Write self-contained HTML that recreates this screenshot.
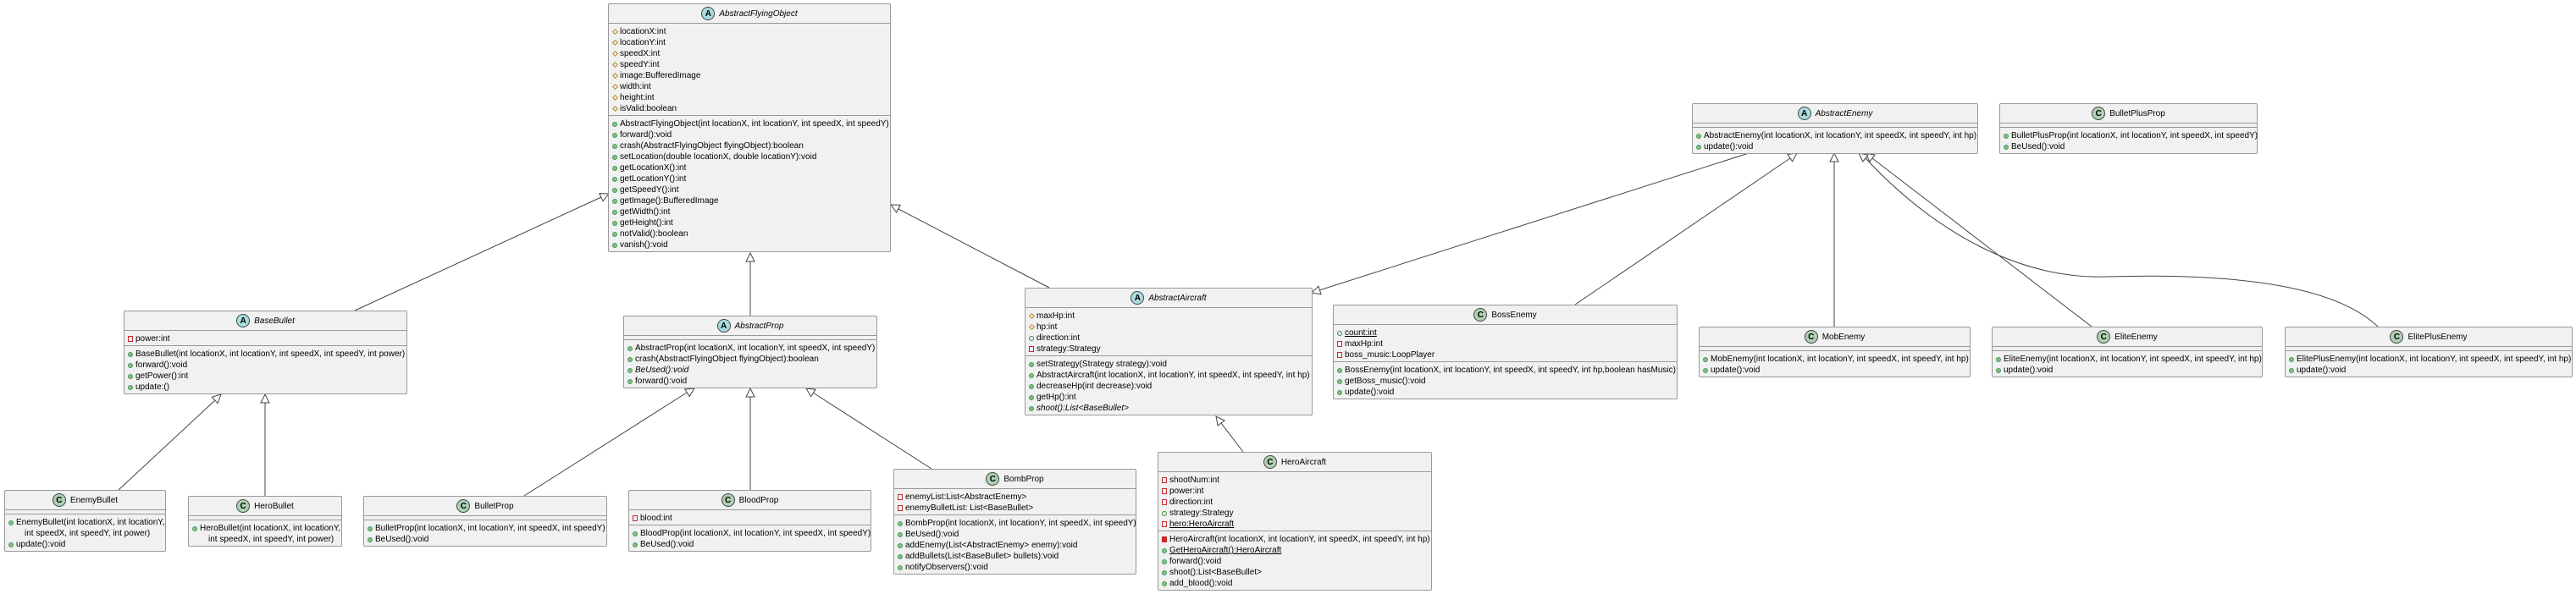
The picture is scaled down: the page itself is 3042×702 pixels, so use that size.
<!DOCTYPE html>
<html><head><meta charset="utf-8"><style>
body{margin:0;width:3042px;height:702px;background:#fff;position:relative;overflow:hidden}
.c{position:absolute;background:#f1f1f1;border:1px solid #999;border-radius:2px;font:10px "Liberation Sans",sans-serif;white-space:nowrap;box-sizing:border-box;color:#000}
.h{height:22px;border-bottom:1px solid #999;display:flex;align-items:center;justify-content:center}
.h i{font-style:italic}
.i{width:16px;height:16px;border-radius:50%;border:1px solid #444;box-sizing:border-box;display:inline-flex;align-items:center;justify-content:center;font-size:10px;font-weight:bold;margin-right:5px;font-style:normal}
.a{background:#a9dcdf}.k{background:#add1b2}
.s{padding:3px 0 1px}
.s+.s,.e+.s{border-top:1px solid #999}
.e{height:4px}
.r{height:13px;line-height:13px;padding-left:13px;position:relative}
.r::before{content:"";position:absolute;box-sizing:border-box}
.pm::before{left:4px;top:4px;width:6px;height:6px;border-radius:50%;background:#84be84;border:1px solid #4a9a5a}
.pf::before{left:4px;top:4px;width:6px;height:6px;border-radius:50%;border:1px solid #3a8a4a}
.pt::before{left:5px;top:4px;width:5px;height:5px;border:1px solid #b38d22;transform:rotate(45deg)}
.vf::before{left:4px;top:3px;width:6px;height:7px;border:1px solid #c82930}
.vm::before{left:4px;top:3px;width:6px;height:7px;background:#c82930}
.u{text-decoration:underline}
.it{font-style:italic}
.w{padding-left:23px}
svg{position:absolute;left:0;top:0}
</style></head><body>
<svg width="3042" height="702" viewBox="0 0 3042 702">
<g stroke="#444" stroke-width="1" fill="none">
<line x1="419" y1="367" x2="710" y2="233"/>
<line x1="886" y1="373" x2="886" y2="309"/>
<line x1="1239" y1="340" x2="1061" y2="247"/>
<line x1="140" y1="579" x2="254" y2="473"/>
<line x1="313" y1="586" x2="313" y2="476"/>
<line x1="619" y1="586" x2="811" y2="464"/>
<line x1="886" y1="579" x2="886" y2="469"/>
<line x1="1100" y1="554" x2="960" y2="464"/>
<line x1="1468" y1="534" x2="1442" y2="500"/>
<line x1="2065" y1="181" x2="1558" y2="343"/>
<line x1="1860" y1="360" x2="2114" y2="187"/>
<line x1="2166" y1="386" x2="2166" y2="191"/>
<line x1="2470" y1="386" x2="2211" y2="187"/>
<path d="M2808,386 C2760,340 2650,322 2488,327 C2390,330 2290,280 2203,187"/>
</g>
<g stroke="#444" stroke-width="1" fill="#fff">
<polygon points="719,229 707.8,228.7 712,237.7"/>
<polygon points="886,299 881,309 891,309"/>
<polygon points="1052,242 1058.6,251 1063.2,242.2"/>
<polygon points="261,466 257.1,476.5 250.3,469.2"/>
<polygon points="313,466 308,476 318,476"/>
<polygon points="820,459 814.2,468.5 808.8,460.1"/>
<polygon points="886,459 881,469 891,469"/>
<polygon points="952,459 957.7,468.6 963.1,460.2"/>
<polygon points="1436,492 1438.1,503 1446.1,497"/>
<polygon points="1549,346 1560,347.7 1557,338.2"/>
<polygon points="2122,181 2116.6,190.8 2110.9,182.5"/>
<polygon points="2166,181 2161,191 2171,191"/>
<polygon points="2203,181 2207.9,191.1 2214,183.1"/>
<polygon points="2195,181 2199.9,191 2206,183.1"/>
</g>
</svg>

<div class="c" style="left:718px;top:4px;width:334px">
<div class="h"><span class="i a">A</span><i>AbstractFlyingObject</i></div>
<div class="s">
<div class="r pt">locationX:int</div><div class="r pt">locationY:int</div><div class="r pt">speedX:int</div><div class="r pt">speedY:int</div><div class="r pt">image:BufferedImage</div><div class="r pt">width:int</div><div class="r pt">height:int</div><div class="r pt">isValid:boolean</div>
</div>
<div class="s">
<div class="r pm">AbstractFlyingObject(int locationX, int locationY, int speedX, int speedY)</div><div class="r pm">forward():void</div><div class="r pm">crash(AbstractFlyingObject flyingObject):boolean</div><div class="r pm">setLocation(double locationX, double locationY):void</div><div class="r pm">getLocationX():int</div><div class="r pm">getLocationY():int</div><div class="r pm">getSpeedY():int</div><div class="r pm">getImage():BufferedImage</div><div class="r pm">getWidth():int</div><div class="r pm">getHeight():int</div><div class="r pm">notValid():boolean</div><div class="r pm">vanish():void</div>
</div></div>

<div class="c" style="left:146px;top:367px;width:335px">
<div class="h"><span class="i a">A</span><i>BaseBullet</i></div>
<div class="s"><div class="r vf">power:int</div></div>
<div class="s"><div class="r pm">BaseBullet(int locationX, int locationY, int speedX, int speedY, int power)</div><div class="r pm">forward():void</div><div class="r pm">getPower():int</div><div class="r pm">update:()</div></div>
</div>

<div class="c" style="left:736px;top:373px;width:300px">
<div class="h"><span class="i a">A</span><i>AbstractProp</i></div>
<div class="e"></div>
<div class="s"><div class="r pm">AbstractProp(int locationX, int locationY, int speedX, int speedY)</div><div class="r pm">crash(AbstractFlyingObject flyingObject):boolean</div><div class="r pm it">BeUsed():void</div><div class="r pm">forward():void</div></div>
</div>

<div class="c" style="left:1210px;top:340px;width:340px">
<div class="h"><span class="i a">A</span><i>AbstractAircraft</i></div>
<div class="s"><div class="r pt">maxHp:int</div><div class="r pt">hp:int</div><div class="r pf">direction:int</div><div class="r vf">strategy:Strategy</div></div>
<div class="s"><div class="r pm">setStrategy(Strategy strategy):void</div><div class="r pm">AbstractAircraft(int locationX, int locationY, int speedX, int speedY, int hp)</div><div class="r pm">decreaseHp(int decrease):void</div><div class="r pm">getHp():int</div><div class="r pm it">shoot():List&lt;BaseBullet&gt;</div></div>
</div>

<div class="c" style="left:1574px;top:360px;width:407px">
<div class="h"><span class="i k">C</span>BossEnemy</div>
<div class="s"><div class="r pf"><span class="u">count:int</span></div><div class="r vf">maxHp:int</div><div class="r vf">boss_music:LoopPlayer</div></div>
<div class="s"><div class="r pm">BossEnemy(int locationX, int locationY, int speedX, int speedY, int hp,boolean hasMusic)</div><div class="r pm">getBoss_music():void</div><div class="r pm">update():void</div></div>
</div>

<div class="c" style="left:1998px;top:122px;width:338px">
<div class="h"><span class="i a">A</span><i>AbstractEnemy</i></div>
<div class="e"></div>
<div class="s"><div class="r pm">AbstractEnemy(int locationX, int locationY, int speedX, int speedY, int hp)</div><div class="r pm">update():void</div></div>
</div>

<div class="c" style="left:2361px;top:122px;width:305px">
<div class="h"><span class="i k">C</span>BulletPlusProp</div>
<div class="e"></div>
<div class="s"><div class="r pm">BulletPlusProp(int locationX, int locationY, int speedX, int speedY)</div><div class="r pm">BeUsed():void</div></div>
</div>

<div class="c" style="left:2006px;top:386px;width:321px">
<div class="h"><span class="i k">C</span>MobEnemy</div>
<div class="e"></div>
<div class="s"><div class="r pm">MobEnemy(int locationX, int locationY, int speedX, int speedY, int hp)</div><div class="r pm">update():void</div></div>
</div>

<div class="c" style="left:2352px;top:386px;width:320px">
<div class="h"><span class="i k">C</span>EliteEnemy</div>
<div class="e"></div>
<div class="s"><div class="r pm">EliteEnemy(int locationX, int locationY, int speedX, int speedY, int hp)</div><div class="r pm">update():void</div></div>
</div>

<div class="c" style="left:2698px;top:386px;width:340px">
<div class="h"><span class="i k">C</span>ElitePlusEnemy</div>
<div class="e"></div>
<div class="s"><div class="r pm">ElitePlusEnemy(int locationX, int locationY, int speedX, int speedY, int hp)</div><div class="r pm">update():void</div></div>
</div>

<div class="c" style="left:5px;top:579px;width:191px">
<div class="h"><span class="i k">C</span>EnemyBullet</div>
<div class="e"></div>
<div class="s"><div class="r pm">EnemyBullet(int locationX, int locationY,</div><div class="r w">int speedX, int speedY, int power)</div><div class="r pm">update():void</div></div>
</div>

<div class="c" style="left:222px;top:586px;width:182px">
<div class="h"><span class="i k">C</span>HeroBullet</div>
<div class="e"></div>
<div class="s"><div class="r pm">HeroBullet(int locationX, int locationY,</div><div class="r w">int speedX, int speedY, int power)</div></div>
</div>

<div class="c" style="left:429px;top:586px;width:288px">
<div class="h"><span class="i k">C</span>BulletProp</div>
<div class="e"></div>
<div class="s"><div class="r pm">BulletProp(int locationX, int locationY, int speedX, int speedY)</div><div class="r pm">BeUsed():void</div></div>
</div>

<div class="c" style="left:742px;top:579px;width:287px">
<div class="h"><span class="i k">C</span>BloodProp</div>
<div class="s"><div class="r vf">blood:int</div></div>
<div class="s"><div class="r pm">BloodProp(int locationX, int locationY, int speedX, int speedY)</div><div class="r pm">BeUsed():void</div></div>
</div>

<div class="c" style="left:1055px;top:554px;width:287px">
<div class="h"><span class="i k">C</span>BombProp</div>
<div class="s"><div class="r vf">enemyList:List&lt;AbstractEnemy&gt;</div><div class="r vf">enemyBulletList: List&lt;BaseBullet&gt;</div></div>
<div class="s"><div class="r pm">BombProp(int locationX, int locationY, int speedX, int speedY)</div><div class="r pm">BeUsed():void</div><div class="r pm">addEnemy(List&lt;AbstractEnemy&gt; enemy):void</div><div class="r pm">addBullets(List&lt;BaseBullet&gt; bullets):void</div><div class="r pm">notifyObservers():void</div></div>
</div>

<div class="c" style="left:1367px;top:534px;width:324px">
<div class="h"><span class="i k">C</span>HeroAircraft</div>
<div class="s"><div class="r vf">shootNum:int</div><div class="r vf">power:int</div><div class="r vf">direction:int</div><div class="r pf">strategy:Strategy</div><div class="r vf"><span class="u">hero:HeroAircraft</span></div></div>
<div class="s"><div class="r vm">HeroAircraft(int locationX, int locationY, int speedX, int speedY, int hp)</div><div class="r pm"><span class="u">GetHeroAircraft():HeroAircraft</span></div><div class="r pm">forward():void</div><div class="r pm">shoot():List&lt;BaseBullet&gt;</div><div class="r pm">add_blood():void</div></div>
</div>
</body></html>
